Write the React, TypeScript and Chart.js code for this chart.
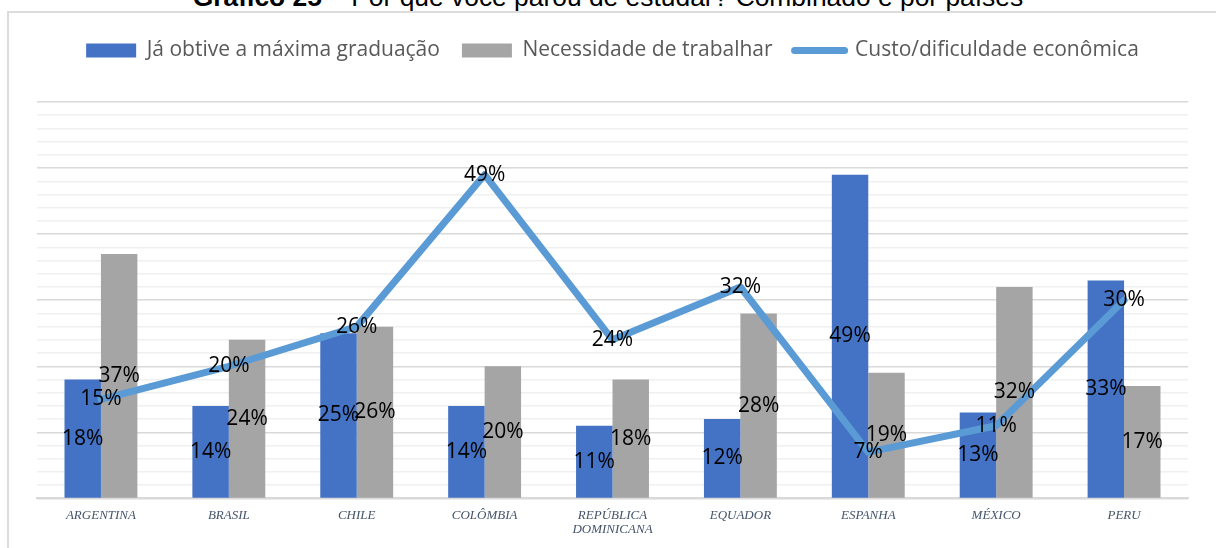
import React, { useEffect, useRef } from 'react';
import { Chart, registerables } from 'chart.js';

Chart.register(...registerables);

const categories: (string | string[])[] = [
  'ARGENTINA',
  'BRASIL',
  'CHILE',
  'COLÔMBIA',
  ['REPÚBLICA', 'DOMINICANA'],
  'EQUADOR',
  'ESPANHA',
  'MÉXICO',
  'PERU',
];
const maxGraduacao = [18, 14, 25, 14, 11, 12, 49, 13, 33];
const necessidadeTrabalhar = [37, 24, 26, 20, 18, 28, 19, 32, 17];
const custoDificuldade = [15, 20, 26, 49, 24, 32, 7, 11, 30];
const seriesNames = [
  'Já obtive a máxima graduação',
  'Necessidade de trabalhar',
  'Custo/dificuldade econômica',
];
const titleBold = 'Gráfico 25';
const titleRest = ' – Por que você parou de estudar? Combinado e por países';

const BLUE = '#4472C4';
const GRAY = '#A5A5A5';
const LINE = '#5B9BD5';

const dataLabelPlugin = {
  id: 'dataLabels',
  afterDatasetsDraw(chart: any) {
    const ctx = chart.ctx;
    ctx.save();
    ctx.font = '21px "Open Sans"';
    ctx.fillStyle = '#000000';
    ctx.textAlign = 'center';
    ctx.textBaseline = 'middle';
    [0, 1, 2].forEach((di) => {
      const meta = chart.getDatasetMeta(di);
      const ds = chart.data.datasets[di];
      meta.data.forEach((el: any, i: number) => {
        const v = ds.data[i];
        const text = v + '%';
        if (ds.type === 'line') {
          ctx.fillText(text, el.x, el.y);
        } else {
          ctx.fillText(text, el.x, (el.y + el.base) / 2);
        }
      });
    });
    ctx.restore();
  },
};

export default function App() {
  const canvasRef = useRef<HTMLCanvasElement | null>(null);

  useEffect(() => {
    if (!canvasRef.current) return;
    const chart = new Chart(canvasRef.current, {
      type: 'bar',
      data: {
        labels: categories as any,
        datasets: [
          {
            type: 'bar',
            label: seriesNames[0],
            data: maxGraduacao,
            backgroundColor: BLUE,
            borderWidth: 0,
            order: 1,
          },
          {
            type: 'bar',
            label: seriesNames[1],
            data: necessidadeTrabalhar,
            backgroundColor: GRAY,
            borderWidth: 0,
            order: 2,
          },
          {
            type: 'line',
            label: seriesNames[2],
            data: custoDificuldade,
            borderColor: LINE,
            backgroundColor: LINE,
            borderWidth: 7,
            borderCapStyle: 'round',
            borderJoinStyle: 'round',
            pointRadius: 0,
            tension: 0,
            order: 0,
          } as any,
        ],
      },
      options: {
        responsive: false,
        animation: false,
        devicePixelRatio: 1,
        layout: { padding: { left: 37, right: 28, top: 18, bottom: 1 } },
        datasets: {
          bar: { categoryPercentage: 0.57, barPercentage: 1 },
        } as any,
        plugins: {
          tooltip: { enabled: false },
          title: { display: false },
          subtitle: {
            display: true,
            text: ' ',
            font: { size: 12, lineHeight: 1 },
            padding: { top: 10, bottom: 9 },
          },
          legend: {
            display: true,
            position: 'top',
            weight: 3000,
            labels: {
              usePointStyle: true,
              pointStyleWidth: 50,
              boxHeight: 14,
              padding: 22,
              color: '#595959',
              font: { family: '"Open Sans"', size: 21 },
              generateLabels: (ch: any) => {
                const items = (Chart.defaults.plugins.legend.labels as any).generateLabels(ch);
                items.sort((a: any, b: any) => a.datasetIndex - b.datasetIndex);
                return items.map((it: any) =>
                  it.datasetIndex === 2
                    ? { ...it, pointStyle: 'line', lineWidth: 7, strokeStyle: LINE, lineCap: 'round' }
                    : { ...it, pointStyle: 'rect', lineWidth: 0 }
                );
              },
            },
          } as any,
        },
        scales: {
          x: {
            grid: { display: false, drawTicks: false },
            border: { display: true, color: '#D9D9D9', width: 2 },
            ticks: {
              color: '#44546A',
              font: { family: '"Liberation Serif"', style: 'italic', size: 13, lineHeight: 1.1 },
              padding: 10,
              maxRotation: 0,
              autoSkip: false,
            },
          },
          y: {
            min: 0,
            max: 60,
            border: { display: false },
            grid: {
              drawTicks: false,
              lineWidth: 1.5,
              color: (c: any) => (c.tick && c.tick.value % 10 === 0 ? '#D9D9D9' : '#F0F0F0'),
            },
            ticks: { display: false, stepSize: 2 },
          },
        },
      },
      plugins: [dataLabelPlugin],
    });
    return () => chart.destroy();
  }, []);

  return (
    <div
      style={{
        position: 'absolute',
        left: 0,
        top: 0,
        width: 1216,
        height: 548,
        overflow: 'hidden',
        background: '#ffffff',
      }}
    >
      <div
        style={{
          position: 'absolute',
          left: 0,
          top: -16,
          width: 1216,
          textAlign: 'center',
          fontFamily: '"Liberation Sans", Arial, sans-serif',
          fontSize: 26.4,
          lineHeight: '26px',
          color: '#000000',
          whiteSpace: 'nowrap',
        }}
      >
        <b>{titleBold}</b>
        {titleRest}
      </div>
      <div
        style={{
          position: 'absolute',
          left: 7,
          top: 11,
          width: 1216,
          height: 560,
          borderLeft: '2px solid #DCDCDC',
          borderTop: '2px solid #DCDCDC',
        }}
      />
      <canvas
        ref={canvasRef}
        width={1216}
        height={548}
        style={{ position: 'absolute', left: 0, top: 0, width: 1216, height: 548 }}
      />
    </div>
  );
}
